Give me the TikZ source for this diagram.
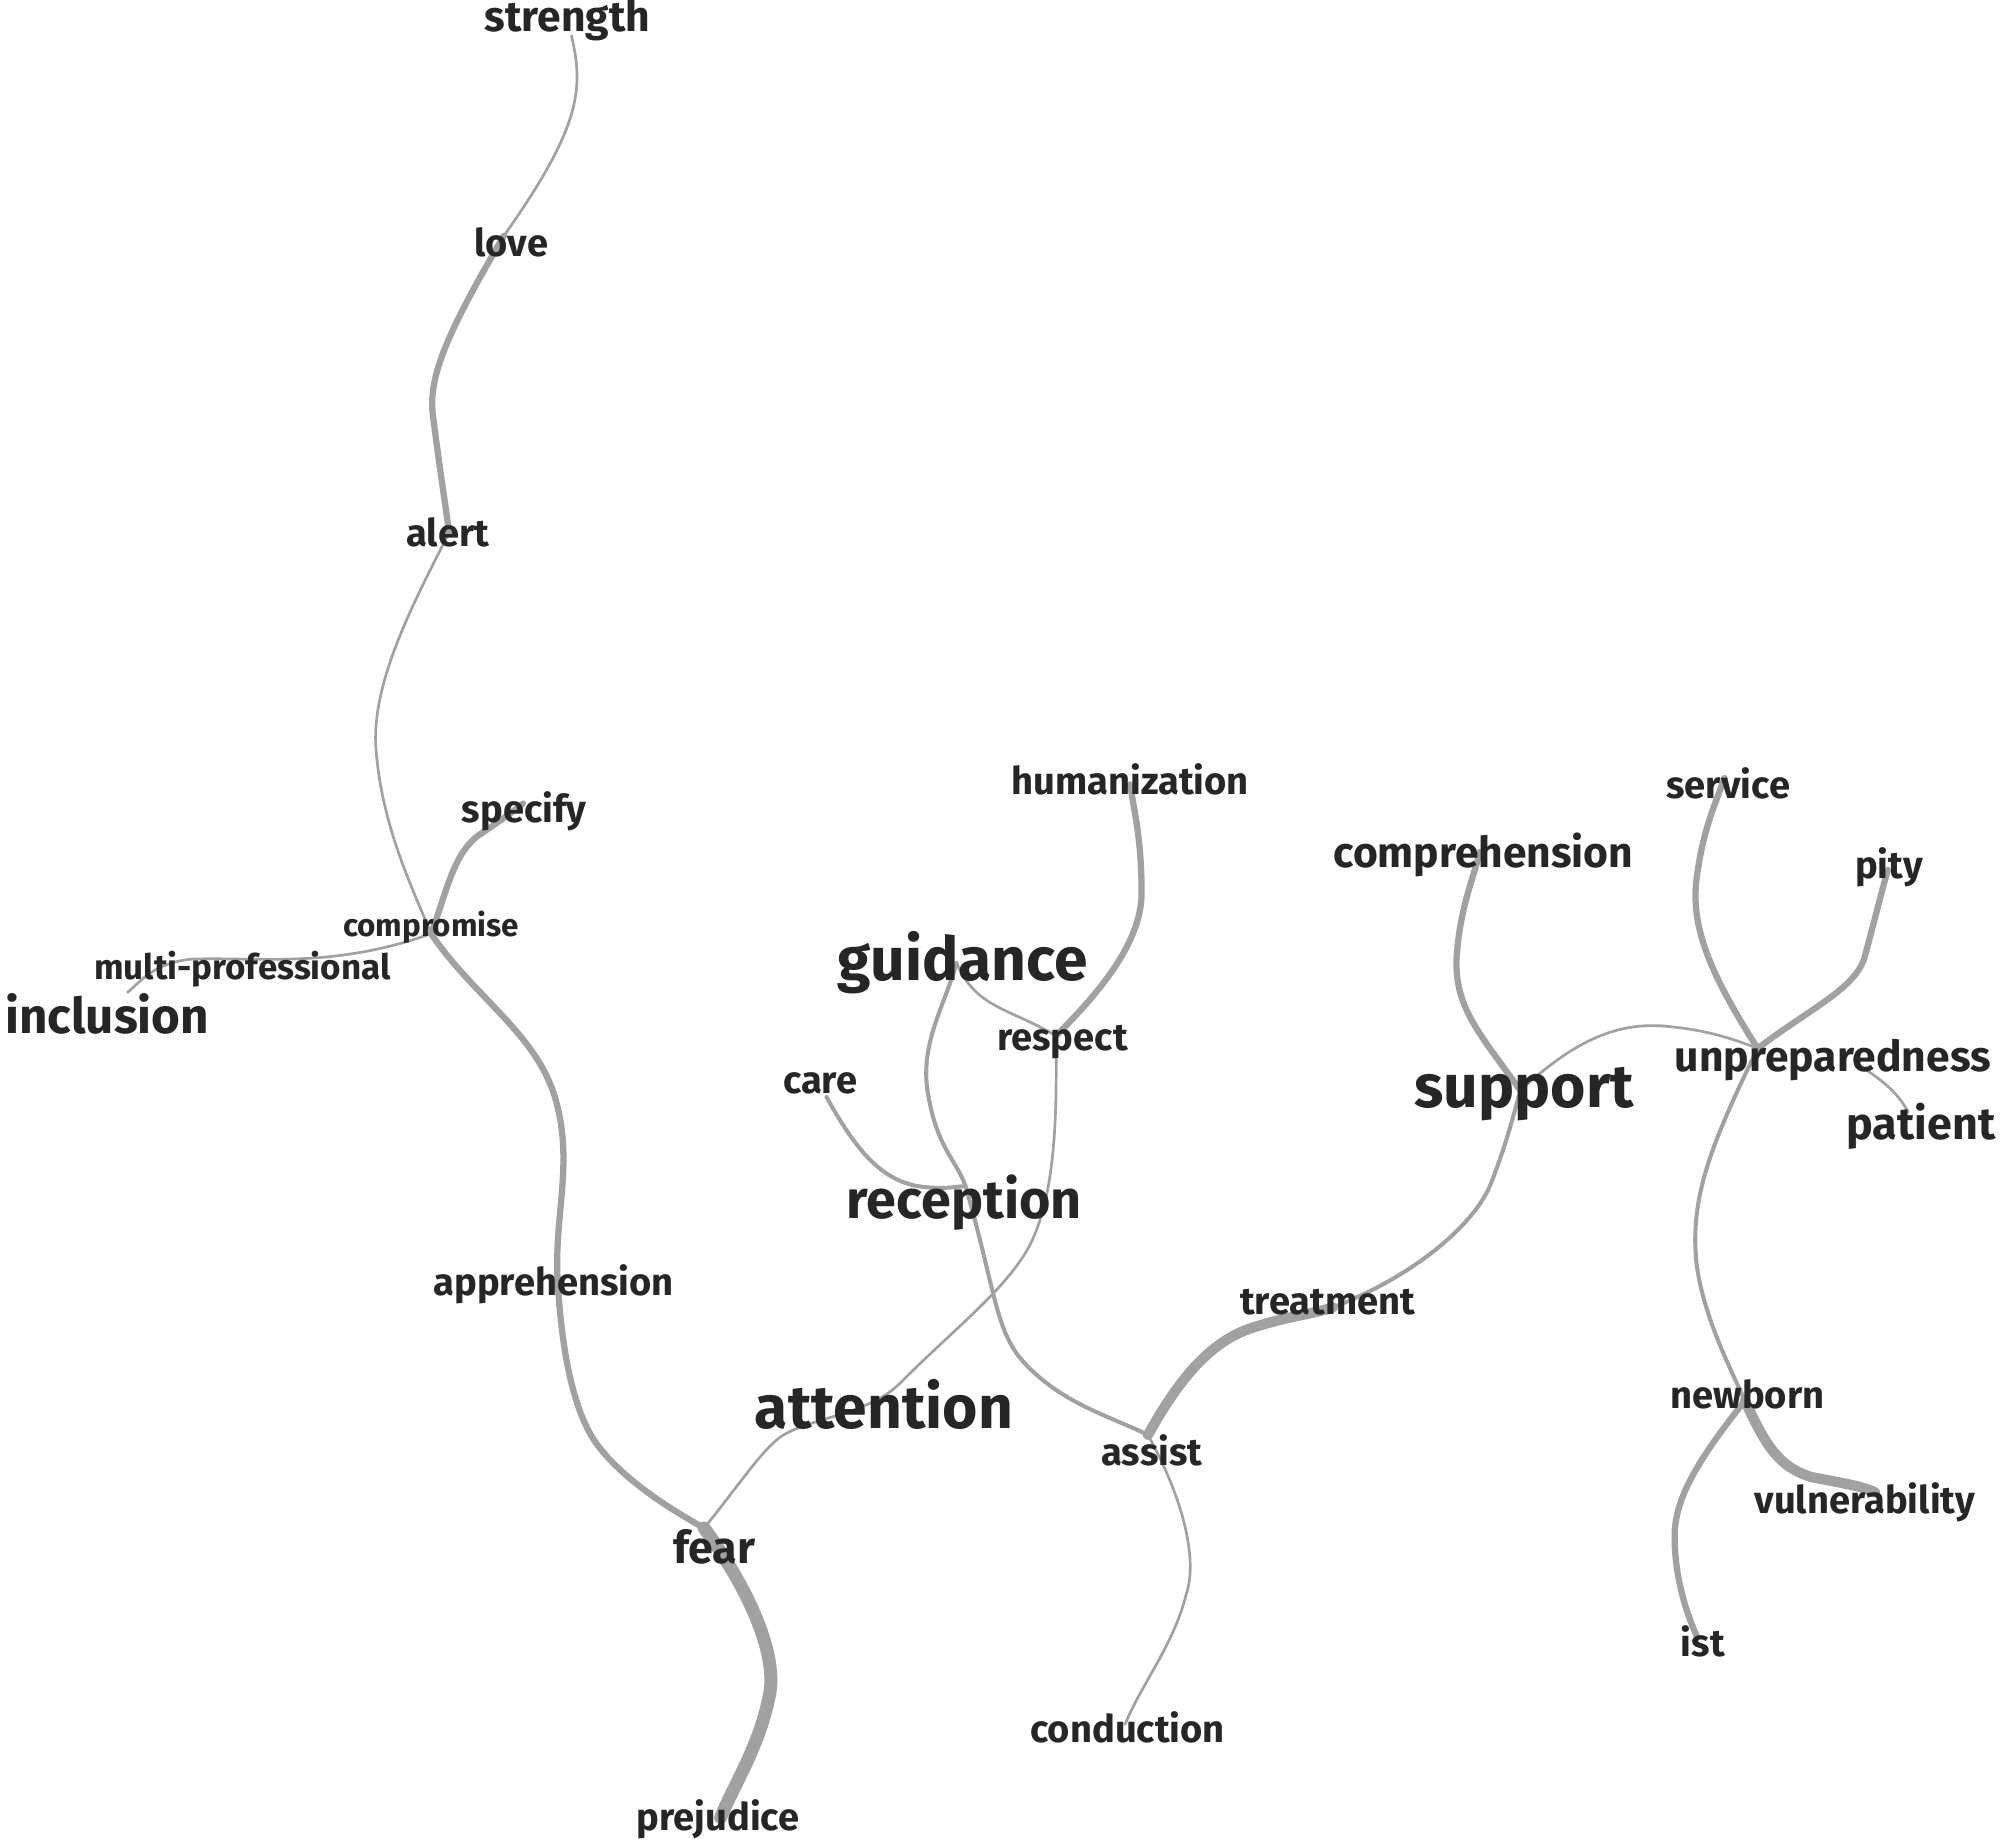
\documentclass[tikz,border=0pt]{standalone}
\usepackage{fontspec}
\setmainfont{Fira Sans}
\begin{document}
\begin{tikzpicture}[x=0.01cm,y=-0.01cm,line cap=round,
  word/.style={text=black!85,font=\bfseries\fontsize{#1}{#1}\selectfont,inner sep=0pt},
  thin/.style={draw=black!37,line width=0.6pt},
  mid/.style={draw=black!37,line width=0.9pt},
  fat/.style={draw=black!37,line width=1.4pt},
  heavy/.style={draw=black!37,line width=2.3pt},
  huge/.style={draw=black!37,line width=2.9pt}]
\useasboundingbox (0,0) rectangle (1568,1443);
% edges first
\coordinate (strP) at (448,28);
\coordinate (loveP) at (395,185);
\coordinate (alertP) at (352,418);
\coordinate (compP) at (338,732);
\coordinate (specP) at (410,630);
\coordinate (inclP) at (100,778);
\coordinate (fearP) at (552,1198);
\coordinate (prejP) at (565,1425);
\coordinate (attP) at (705,1085);
\coordinate (respP) at (828,812);
\coordinate (humP) at (886,615);
\coordinate (guidP) at (750,755);
\coordinate (careP) at (648,860);
\coordinate (recP) at (757,930);
\coordinate (assP) at (900,1125);
\coordinate (treatP) at (1045,1025);
\coordinate (suppP) at (1192,855);
\coordinate (compreP) at (1160,668);
\coordinate (condP) at (882,1352);
\coordinate (unpP) at (1378,822);
\coordinate (servP) at (1352,610);
\coordinate (pityP) at (1480,682);
\coordinate (patP) at (1496,872);
\coordinate (newP) at (1368,1098);
\coordinate (vulP) at (1470,1170);
\coordinate (istP) at (1330,1282);
\draw[thin] (strP) .. controls (458,70) and (455,100) .. (loveP);
\draw[fat] (loveP) .. controls (345,270) and (335,300) .. (340,330) .. controls (345,370) and (350,400) .. (alertP);
\draw[thin] (alertP) .. controls (320,480) and (290,540) .. (295,590) .. controls (300,650) and (325,700) .. (compP);
\draw[fat] (compP) .. controls (350,700) and (355,670) .. (375,655) .. controls (390,645) and (400,638) .. (specP);
\draw[thin] (compP) .. controls (260,760) and (200,750) .. (150,752) .. controls (120,755) and (110,770) .. (inclP);
\draw[fat] (compP) .. controls (370,780) and (420,810) .. (435,860) .. controls (450,910) and (435,950) .. (437,1000) .. controls (440,1060) and (450,1110) .. (470,1135) .. controls (490,1160) and (520,1180) .. (fearP);
\draw[huge] (fearP) .. controls (590,1250) and (610,1300) .. (603,1330) .. controls (595,1370) and (575,1400) .. (prejP);
\draw[thin] (fearP) .. controls (575,1170) and (595,1140) .. (610,1128) .. controls (630,1112) and (680,1110) .. (attP) .. controls (750,1040) and (790,1010) .. (808,975) .. controls (830,930) and (828,860) .. (respP);
\draw[fat] (respP) .. controls (860,780) and (895,740) .. (895,700) .. controls (895,660) and (890,640) .. (humP);
\draw[thin] (respP) .. controls (790,790) and (765,790) .. (guidP);
\draw[mid] (guidP) .. controls (740,790) and (720,820) .. (728,860) .. controls (735,900) and (750,910) .. (recP) .. controls (780,1010) and (780,1040) .. (800,1065) .. controls (830,1100) and (870,1110) .. (assP);
\draw[mid] (careP) .. controls (670,900) and (690,925) .. (720,930) .. controls (740,933) and (750,930) .. (recP);
\draw[heavy] (assP) .. controls (925,1080) and (950,1050) .. (985,1040) .. controls (1010,1032) and (1030,1030) .. (treatP);
\draw[mid] (treatP) .. controls (1110,1000) and (1155,960) .. (1168,930) .. controls (1180,900) and (1185,880) .. (suppP);
\draw[fat] (suppP) .. controls (1160,810) and (1140,790) .. (1142,750) .. controls (1145,710) and (1155,690) .. (compreP);
\draw[thin] (assP) .. controls (925,1170) and (940,1220) .. (930,1250) .. controls (920,1290) and (895,1320) .. (condP);
\draw[thin] (suppP) .. controls (1235,815) and (1270,800) .. (1310,805) .. controls (1340,808) and (1360,815) .. (unpP);
\draw[fat] (unpP) .. controls (1345,770) and (1325,730) .. (1330,690) .. controls (1335,650) and (1345,630) .. (servP);
\draw[fat] (unpP) .. controls (1420,790) and (1455,775) .. (1462,750) .. controls (1470,720) and (1475,700) .. (pityP);
\draw[thin] (1462,838) .. controls (1480,850) and (1490,860) .. (patP);
\draw[mid] (unpP) .. controls (1340,900) and (1325,940) .. (1330,990) .. controls (1335,1030) and (1355,1070) .. (newP);
\draw[heavy] (newP) .. controls (1385,1135) and (1395,1150) .. (1420,1158) .. controls (1440,1162) and (1460,1165) .. (vulP);
\draw[fat] (newP) .. controls (1335,1140) and (1315,1170) .. (1313,1200) .. controls (1312,1230) and (1320,1260) .. (istP);
% words
\node[word=9.5] (strength) at (445,16) {strength};
\node[word=8.5] (love) at (401,190) {love};
\node[word=8.5] (alert) at (351,417) {alert};
\node[word=8.5] (specify) at (411,636) {specify};
\node[word=7] (compromise) at (338,727) {compromise};
\node[word=7.8] (multi) at (190,760) {multi-professional};
\node[word=11] (inclusion) at (84,795) {inclusion};
\node[word=8.5] (apprehension) at (434,1007) {apprehension};
\node[word=10] (fear) at (560,1213) {fear};
\node[word=8.5] (prejudice) at (563,1426) {prejudice};
\node[word=13.5] (attention) at (693,1101) {attention};
\node[word=13.5] (guidance) at (755,755) {guidance};
\node[word=8.5] (humanization) at (886,611) {humanization};
\node[word=8.5] (respect) at (833,817) {respect};
\node[word=8.5] (care) at (643,849) {care};
\node[word=12] (reception) at (756,943) {reception};
\node[word=8.5] (assist) at (903,1137) {assist};
\node[word=8.5] (treatment) at (1041,1021) {treatment};
\node[word=8.5] (conduction) at (884,1354) {conduction};
\node[word=9.5] (comprehension) at (1163,670) {comprehension};
\node[word=13.5] (support) at (1195,858) {support};
\node[word=8.5] (service) at (1355,614) {service};
\node[word=8.5] (pity) at (1481,680) {pity};
\node[word=9.5] (unpreparedness) at (1437,831) {unpreparedness};
\node[word=10] (patient) at (1506,883) {patient};
\node[word=8.5] (newborn) at (1370,1093) {newborn};
\node[word=8.5] (vulnerability) at (1462,1178) {vulnerability};
\node[word=8.5] (ist) at (1335,1287) {ist};
\end{tikzpicture}
\end{document}
